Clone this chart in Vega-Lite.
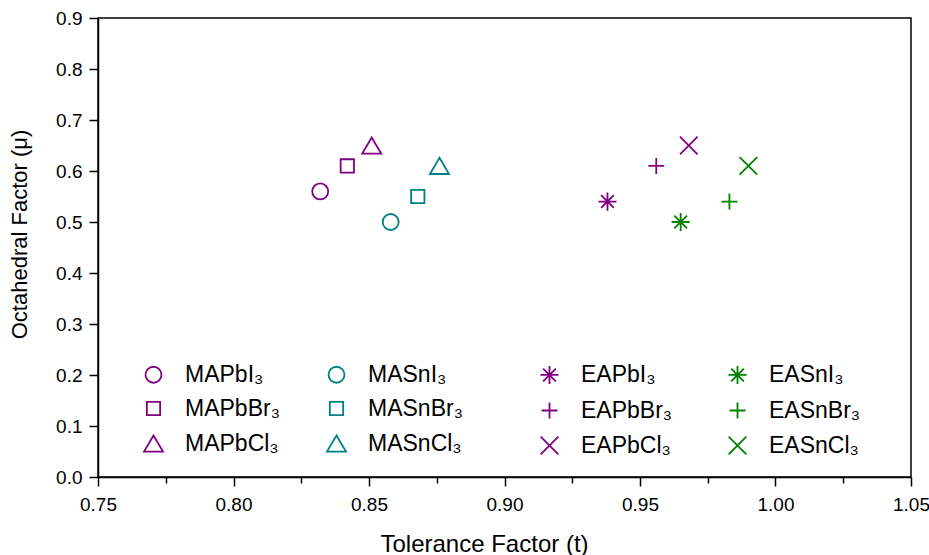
{
  "$schema": "https://vega.github.io/schema/vega-lite/v6.json",
  "width": 813,
  "height": 459,
  "autosize": "none",
  "padding": {"left": 98, "top": 18, "right": 18, "bottom": 78},
  "background": "white",
  "config": {
    "font": "Liberation Sans",
    "view": {"stroke": "black", "strokeWidth": 1.5},
    "axis": {"domainColor": "black", "domainWidth": 1.5, "tickColor": "black", "tickWidth": 1.5, "labelColor": "black", "titleColor": "black", "grid": false, "labelFont": "Liberation Sans", "titleFont": "Liberation Sans", "titleFontWeight": "normal"},
    "legend": {"labelFont": "Liberation Sans", "title": null, "orient": "none", "direction": "horizontal", "columns": 2, "labelFontSize": 23, "labelColor": "black", "symbolSize": 361, "symbolStrokeWidth": 1.8, "labelOffset": 20, "rowPadding": 10, "padding": 0, "gridAlign": "each", "labelLimit": 300}
  },
  "data": {
    "values": [
      {"compound": "MAPbI₃", "t": 0.832, "mu": 0.56},
      {"compound": "MAPbBr₃", "t": 0.842, "mu": 0.61},
      {"compound": "MAPbCl₃", "t": 0.851, "mu": 0.65},
      {"compound": "MASnI₃", "t": 0.858, "mu": 0.50},
      {"compound": "MASnBr₃", "t": 0.868, "mu": 0.55},
      {"compound": "MASnCl₃", "t": 0.876, "mu": 0.61},
      {"compound": "EAPbI₃", "t": 0.938, "mu": 0.54},
      {"compound": "EAPbBr₃", "t": 0.956, "mu": 0.61},
      {"compound": "EAPbCl₃", "t": 0.968, "mu": 0.65},
      {"compound": "EASnI₃", "t": 0.965, "mu": 0.50},
      {"compound": "EASnBr₃", "t": 0.983, "mu": 0.54},
      {"compound": "EASnCl₃", "t": 0.990, "mu": 0.61}
    ]
  },
  "encoding": {
    "x": {
      "field": "t", "type": "quantitative",
      "scale": {"domain": [0.75, 1.05], "nice": false, "zero": false},
      "axis": {
        "title": "Tolerance Factor (t)",
        "values": [0.75, 0.775, 0.8, 0.825, 0.85, 0.875, 0.9, 0.925, 0.95, 0.975, 1.0, 1.025, 1.05],
        "labelExpr": "round(datum.value*1000) % 50 == 0 ? format(datum.value, '.2f') : ''",
        "tickSize": {"condition": {"test": "round(datum.value*1000) % 50 != 0", "value": 6}, "value": 9},
        "labelFontSize": 19, "labelPadding": 9, "titleFontSize": 24, "titlePadding": 18, "titleX": 386, "labelFlush": false
      }
    },
    "y": {
      "field": "mu", "type": "quantitative",
      "scale": {"domain": [0, 0.9], "nice": false},
      "axis": {
        "title": "Octahedral Factor (μ)",
        "values": [0, 0.1, 0.2, 0.3, 0.4, 0.5, 0.6, 0.7, 0.8, 0.9],
        "format": ".1f", "tickSize": 9,
        "labelFontSize": 19, "labelPadding": 7, "titleFontSize": 22, "titlePadding": 24, "titleY": 216, "labelFlush": false
      }
    }
  },
  "layer": [
    {
      "transform": [{"filter": "indexof(datum.compound, 'MA') == 0"}],
      "mark": {"type": "point", "filled": false, "strokeWidth": 1.8, "size": 361, "opacity": 1},
      "encoding": {
        "color": {
          "field": "compound", "type": "nominal",
          "scale": {
            "domain": ["MAPbI₃", "MASnI₃", "MAPbBr₃", "MASnBr₃", "MAPbCl₃", "MASnCl₃"],
            "range": ["#800080", "#008080", "#800080", "#008080", "#800080", "#008080"]
          },
          "legend": {"legendX": 44, "legendY": 345, "columnPadding": 43}
        },
        "shape": {
          "field": "compound", "type": "nominal",
          "scale": {
            "domain": ["MAPbI₃", "MASnI₃", "MAPbBr₃", "MASnBr₃", "MAPbCl₃", "MASnCl₃"],
            "range": [
              "M-0.84,0A0.84,0.84 0 1,0 0.84,0A0.84,0.84 0 1,0 -0.84,0Z",
              "M-0.84,0A0.84,0.84 0 1,0 0.84,0A0.84,0.84 0 1,0 -0.84,0Z",
              "M-0.7,-0.7L0.7,-0.7L0.7,0.7L-0.7,0.7Z",
              "M-0.7,-0.7L0.7,-0.7L0.7,0.7L-0.7,0.7Z",
              "M0,-0.85L1,0.85L-1,0.85Z",
              "M0,-0.85L1,0.85L-1,0.85Z"
            ]
          },
          "legend": {"legendX": 44, "legendY": 345, "columnPadding": 43}
        }
      }
    },
    {
      "transform": [{"filter": "indexof(datum.compound, 'EA') == 0"}],
      "mark": {"type": "point", "filled": false, "strokeWidth": 1.8, "size": 361, "opacity": 1},
      "encoding": {
        "color": {
          "field": "compound", "type": "nominal",
          "scale": {
            "domain": ["EAPbI₃", "EASnI₃", "EAPbBr₃", "EASnBr₃", "EAPbCl₃", "EASnCl₃"],
            "range": ["#800080", "#008000", "#800080", "#008000", "#800080", "#008000"]
          },
          "legend": {"legendX": 440, "legendY": 345, "columnPadding": 51}
        },
        "shape": {
          "field": "compound", "type": "nominal",
          "scale": {
            "domain": ["EAPbI₃", "EASnI₃", "EAPbBr₃", "EASnBr₃", "EAPbCl₃", "EASnCl₃"],
            "range": [
              "M-0.95,0L0.95,0M0,-0.95L0,0.95M-0.67,-0.67L0.67,0.67M-0.67,0.67L0.67,-0.67",
              "M-0.95,0L0.95,0M0,-0.95L0,0.95M-0.67,-0.67L0.67,0.67M-0.67,0.67L0.67,-0.67",
              "M-0.84,0L0.84,0M0,-0.84L0,0.84",
              "M-0.84,0L0.84,0M0,-0.84L0,0.84",
              "M-0.93,-0.93L0.93,0.93M-0.93,0.93L0.93,-0.93",
              "M-0.93,-0.93L0.93,0.93M-0.93,0.93L0.93,-0.93"
            ]
          },
          "legend": {"legendX": 440, "legendY": 345, "columnPadding": 51}
        }
      }
    }
  ],
  "resolve": {
    "scale": {"color": "independent", "shape": "independent"},
    "legend": {"color": "independent", "shape": "independent"}
  }
}
